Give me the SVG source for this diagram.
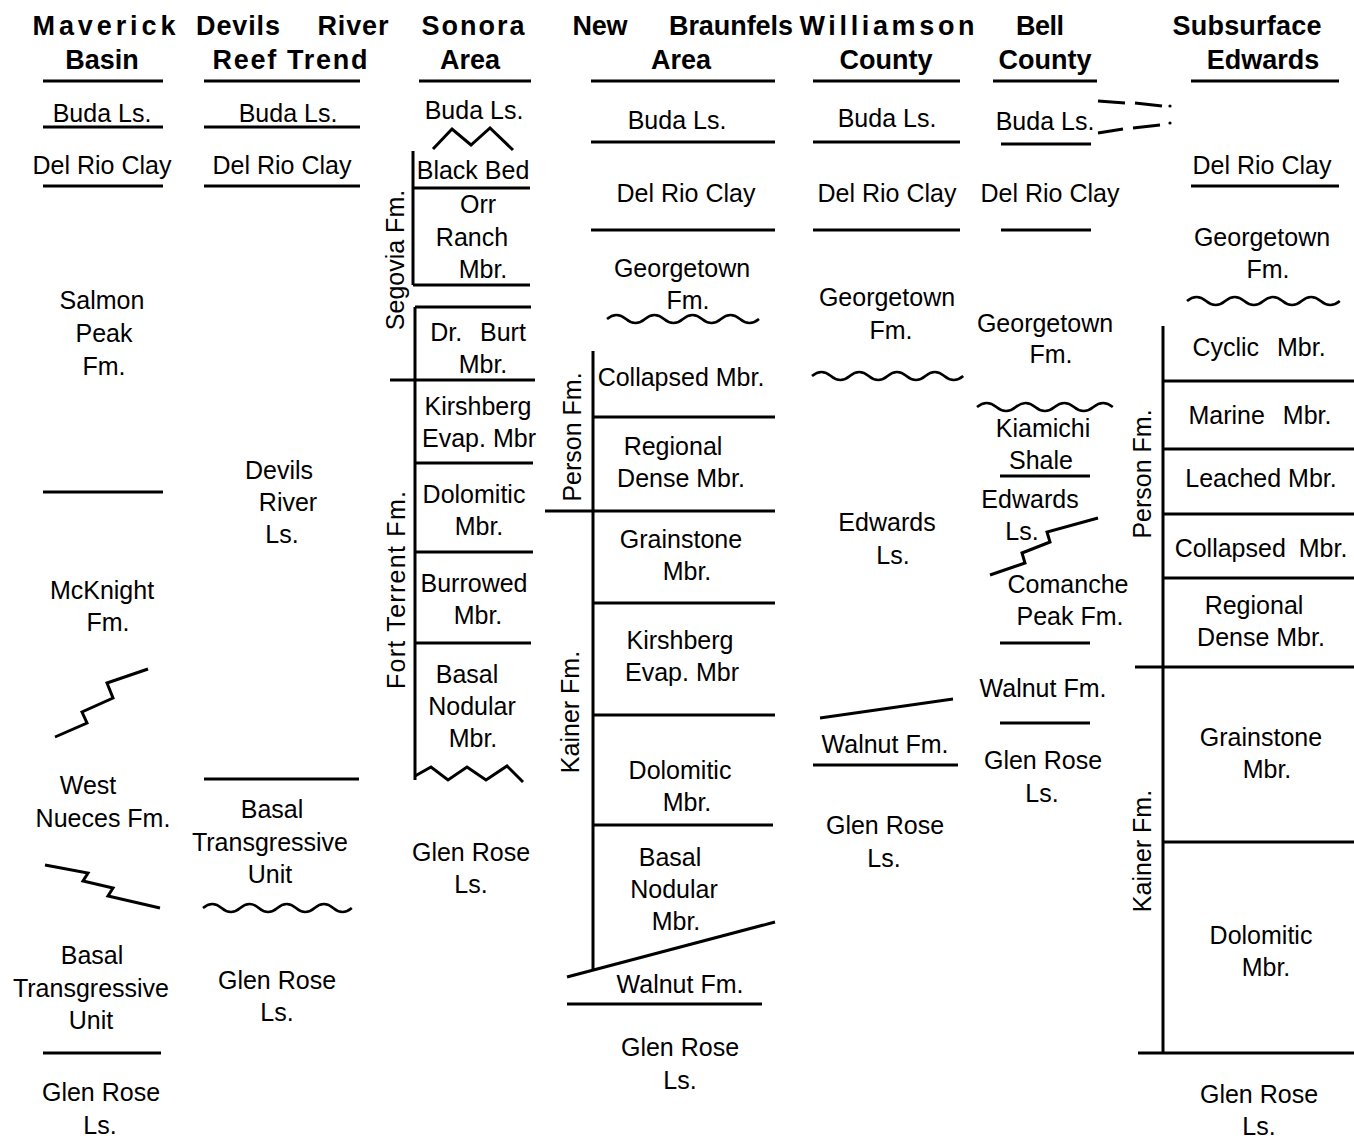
<svg xmlns="http://www.w3.org/2000/svg" width="1354" height="1139" viewBox="0 0 1354 1139">
<style>
text{font-family:"Liberation Sans",Arial,sans-serif;fill:#000}
.t{font-size:25px;text-anchor:middle}
.w{word-spacing:11px}
.h{font-size:27px;font-weight:bold;text-anchor:middle}
.ln{stroke:#000;stroke-width:3;fill:none;stroke-linecap:butt}
.wv{stroke:#000;stroke-width:2.6;fill:none}
.fl{stroke:#000;stroke-width:3;fill:none;stroke-linejoin:miter}
</style>
<rect width="1354" height="1139" fill="#fff"/>

<g id="headers">
<text class="h" x="104" y="35" textLength="143" lengthAdjust="spacing">Maverick</text>
<text class="h" x="238" y="35" textLength="84" lengthAdjust="spacing">Devils</text>
<text class="h" x="353" y="35" textLength="71" lengthAdjust="spacing">River</text>
<text class="h" x="473" y="35" textLength="103" lengthAdjust="spacing">Sonora</text>
<text class="h" x="600" y="35" textLength="55" lengthAdjust="spacing">New</text>
<text class="h" x="731" y="35" textLength="124" lengthAdjust="spacing">Braunfels</text>
<text class="h" x="887" y="35" textLength="175" lengthAdjust="spacing">Williamson</text>
<text class="h" x="1040" y="35" textLength="48" lengthAdjust="spacing">Bell</text>
<text class="h" x="1247" y="35" textLength="149" lengthAdjust="spacing">Subsurface</text>
<text class="h" x="102" y="69">Basin</text>
<text class="h" x="290" y="69" textLength="155" lengthAdjust="spacing">Reef Trend</text>
<text class="h" x="470" y="69">Area</text>
<text class="h" x="681" y="69">Area</text>
<text class="h" x="886" y="69">County</text>
<text class="h" x="1045" y="69">County</text>
<text class="h" x="1263" y="69">Edwards</text>
<path class="ln" d="M43,81H163M204,81H360M419,81H531M591,81H775M813,81H960M993,81H1097M1191,81H1339"/>
</g>

<g id="maverick-basin">
<text class="t" x="102" y="122">Buda Ls.</text>
<text class="t" x="102" y="174">Del Rio Clay</text>
<text class="t" x="102" y="309">Salmon</text>
<text class="t" x="104" y="342">Peak</text>
<text class="t" x="104" y="375">Fm.</text>
<text class="t" x="102" y="599">McKnight</text>
<text class="t" x="108" y="631">Fm.</text>
<text class="t" x="88" y="794">West</text>
<text class="t" x="103" y="827">Nueces Fm.</text>
<text class="t" x="92" y="964">Basal</text>
<text class="t" x="91" y="997">Transgressive</text>
<text class="t" x="91" y="1029">Unit</text>
<text class="t" x="101" y="1101">Glen Rose</text>
<text class="t" x="100" y="1134">Ls.</text>
<path class="ln" d="M43,127H163M43,186H163M43,492H163M43,1053H161"/>
<polyline class="fl" points="55,737 87,723 82,712 113,698 107,683 148,669"/>
<polyline class="fl" points="45,865 88,873 83,881 113,888 108,896 160,908"/>
</g>

<g id="devils-river">
<text class="t" x="288" y="122">Buda Ls.</text>
<text class="t" x="282" y="174">Del Rio Clay</text>
<text class="t" x="279" y="479">Devils</text>
<text class="t" x="288" y="511">River</text>
<text class="t" x="282" y="543">Ls.</text>
<text class="t" x="272" y="818">Basal</text>
<text class="t" x="270" y="851">Transgressive</text>
<text class="t" x="270" y="883">Unit</text>
<text class="t" x="277" y="989">Glen Rose</text>
<text class="t" x="277" y="1021">Ls.</text>
<path class="ln" d="M204,127H360M204,186H360M204,779H359"/>
<path class="wv" d="M203,908q9.3,-8 18.6,0t18.6,0t18.6,0t18.6,0t18.6,0t18.6,0t18.6,0t18.6,0"/>
</g>

<g id="sonora">
<text class="t" x="474" y="119">Buda Ls.</text>
<polyline class="fl" points="433,149 452,129 471,145 490,128 513,150"/>
<text class="t" x="473" y="179">Black Bed</text>
<text class="t" x="478" y="213">Orr</text>
<text class="t" x="472" y="246">Ranch</text>
<text class="t" x="483" y="278">Mbr.</text>
<text class="t w" x="478" y="341">Dr. Burt</text>
<text class="t" x="483" y="373">Mbr.</text>
<text class="t" x="478" y="415">Kirshberg</text>
<text class="t" x="479" y="447">Evap. Mbr</text>
<text class="t" x="474" y="503">Dolomitic</text>
<text class="t" x="479" y="535">Mbr.</text>
<text class="t" x="474" y="592">Burrowed</text>
<text class="t" x="478" y="624">Mbr.</text>
<text class="t" x="467" y="683">Basal</text>
<text class="t" x="472" y="715">Nodular</text>
<text class="t" x="473" y="747">Mbr.</text>
<text class="t" x="471" y="861">Glen Rose</text>
<text class="t" x="471" y="893">Ls.</text>
<text class="t" transform="translate(404,260) rotate(-90)">Segovia Fm.</text>
<text class="t" transform="translate(405,590) rotate(-90)" textLength="198" lengthAdjust="spacing">Fort Terrent Fm.</text>
<path class="ln" d="M413,151V285M413,188H530M413,285H530M415,307V780M415,307H531M390,380H535M415,463H533M415,552H533M415,643H531"/>
<polyline class="fl" points="415,776 431,767 448,780 467,767 486,780 507,766 523,782"/>
</g>

<g id="new-braunfels">
<text class="t" x="677" y="129">Buda Ls.</text>
<text class="t" x="686" y="202">Del Rio Clay</text>
<text class="t" x="682" y="277">Georgetown</text>
<text class="t" x="688" y="309">Fm.</text>
<path class="wv" d="M607,319q9.5,-8 19,0t19,0t19,0t19,0t19,0t19,0t19,0t19,0"/>
<text class="t" x="681" y="386">Collapsed Mbr.</text>
<text class="t" x="673" y="455">Regional</text>
<text class="t" x="681" y="487">Dense Mbr.</text>
<text class="t" x="681" y="548">Grainstone</text>
<text class="t" x="687" y="580">Mbr.</text>
<text class="t" x="680" y="649">Kirshberg</text>
<text class="t" x="682" y="681">Evap. Mbr</text>
<text class="t" x="680" y="779">Dolomitic</text>
<text class="t" x="687" y="811">Mbr.</text>
<text class="t" x="670" y="866">Basal</text>
<text class="t" x="674" y="898">Nodular</text>
<text class="t" x="676" y="930">Mbr.</text>
<text class="t" x="680" y="993">Walnut Fm.</text>
<text class="t" x="680" y="1056">Glen Rose</text>
<text class="t" x="680" y="1089">Ls.</text>
<text class="t" transform="translate(581,437) rotate(-90)">Person Fm.</text>
<text class="t" transform="translate(579,712) rotate(-90)">Kainer Fm.</text>
<path class="ln" d="M591,142H775M591,230H775M593,351V971M593,417H775M545,511H775M593,603H775M593,715H775M593,825H773M567,1004H762"/>
<path class="ln" d="M567,977L775,922"/>
</g>

<g id="williamson-county">
<text class="t" x="887" y="127">Buda Ls.</text>
<text class="t" x="887" y="202">Del Rio Clay</text>
<text class="t" x="887" y="306">Georgetown</text>
<text class="t" x="891" y="339">Fm.</text>
<path class="wv" d="M812,376q9.4,-8 18.9,0t18.9,0t18.9,0t18.9,0t18.9,0t18.9,0t18.9,0t18.9,0"/>
<text class="t" x="887" y="531">Edwards</text>
<text class="t" x="893" y="564">Ls.</text>
<text class="t" x="885" y="753">Walnut Fm.</text>
<text class="t" x="885" y="834">Glen Rose</text>
<text class="t" x="884" y="867">Ls.</text>
<path class="ln" d="M813,142H960M813,230H960M813,765H958"/>
<path class="ln" d="M820,718L953,699"/>
</g>

<g id="bell-county">
<text class="t" x="1045" y="130">Buda Ls.</text>
<path class="ln" d="M1098,101L1125,103M1135,103L1162,106M1098,133L1123,129M1133,128L1160,125"/>
<circle cx="1170" cy="106" r="1.6"/>
<circle cx="1170" cy="123" r="1.6"/>
<text class="t" x="1050" y="202">Del Rio Clay</text>
<text class="t" x="1045" y="332">Georgetown</text>
<text class="t" x="1051" y="363">Fm.</text>
<path class="wv" d="M977,407q9.7,-8 19.4,0t19.4,0t19.4,0t19.4,0t19.4,0t19.4,0t19.4,0"/>
<text class="t" x="1043" y="437">Kiamichi</text>
<text class="t" x="1041" y="469">Shale</text>
<text class="t" x="1030" y="508">Edwards</text>
<text class="t" x="1022" y="540">Ls.</text>
<polyline class="fl" points="990,575 1025,563 1022,553 1050,542 1047,532 1098,518"/>
<text class="t" x="1068" y="593">Comanche</text>
<text class="t" x="1070" y="625">Peak Fm.</text>
<text class="t" x="1043" y="697">Walnut Fm.</text>
<text class="t" x="1043" y="769">Glen Rose</text>
<text class="t" x="1042" y="802">Ls.</text>
<path class="ln" d="M1001,144H1091M1001,230H1091M1000,476H1090M1000,643H1090M1000,723H1090"/>
</g>

<g id="subsurface-edwards">
<text class="t" x="1262" y="174">Del Rio Clay</text>
<text class="t" x="1262" y="246">Georgetown</text>
<text class="t" x="1268" y="278">Fm.</text>
<path class="wv" d="M1187,301q9.5,-8 19.1,0t19.1,0t19.1,0t19.1,0t19.1,0t19.1,0t19.1,0t19.1,0"/>
<text class="t w" x="1259" y="356">Cyclic Mbr.</text>
<text class="t w" x="1260" y="424">Marine Mbr.</text>
<text class="t" x="1261" y="487">Leached Mbr.</text>
<text class="t" x="1261" y="557" style="word-spacing:6px">Collapsed Mbr.</text>
<text class="t" x="1254" y="614">Regional</text>
<text class="t" x="1261" y="646">Dense Mbr.</text>
<text class="t" x="1261" y="746">Grainstone</text>
<text class="t" x="1267" y="778">Mbr.</text>
<text class="t" x="1261" y="944">Dolomitic</text>
<text class="t" x="1266" y="976">Mbr.</text>
<text class="t" x="1259" y="1103">Glen Rose</text>
<text class="t" x="1259" y="1135">Ls.</text>
<text class="t" transform="translate(1151,474) rotate(-90)">Person Fm.</text>
<text class="t" transform="translate(1151,851) rotate(-90)">Kainer Fm.</text>
<path class="ln" d="M1191,186H1339M1163,326V1053M1163,381H1354M1163,449H1354M1163,514H1354M1163,578H1354M1135,667H1354M1163,842H1354M1138,1053H1354"/>
</g>
</svg>
